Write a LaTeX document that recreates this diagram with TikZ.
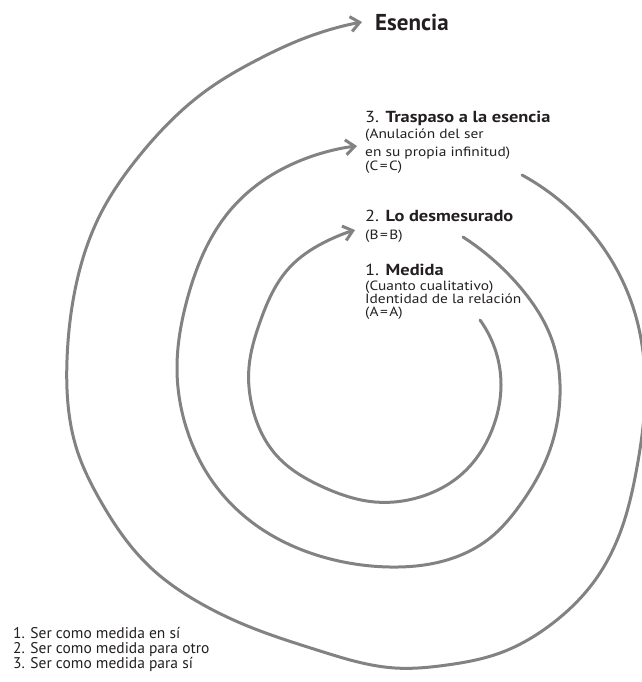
\documentclass[tikz,border=0pt]{standalone}
\usepackage{fontspec}
\setmainfont{PT Sans}
\newfontfamily\widesans[FakeStretch=1.15]{PT Sans}
\usetikzlibrary{arrows.meta,hobby}
\definecolor{spiralgray}{RGB}{130,130,130}
\definecolor{inkdark}{RGB}{35,31,32}
\newcommand{\wideeq}{\kern1.5pt=\kern1.5pt}
\tikzset{
  spiral/.style={draw=spiralgray, line width=3pt, line cap=round, line join=round,
    use Hobby shortcut,
    -{Straight Barb[length=9pt,width=15pt,line width=3pt]}},
  lbl/.style={anchor=base west, inner sep=0pt, text=inkdark},
  headtxt/.style={lbl, font=\widesans\fontsize{16}{16}\selectfont},
  subtxt/.style={lbl, font=\widesans\fontsize{13.4}{13.4}\selectfont},
  legendtxt/.style={lbl, font=\fontsize{15.5}{15}\selectfont},
}
\begin{document}
\begin{tikzpicture}[x=1pt,y=-1pt]
\useasboundingbox (0,0) rectangle (641,682);

% inner turn: Medida -> Lo desmesurado
\draw[spiral] (480,320) .. (496,352) .. (501,385) .. (492,430) .. (463,473)
  .. (420,497) .. (375,502) .. (323,487) .. (277,456) .. (253,410)
  .. (249,367) .. (260,322) .. (290,267) .. (323,243) .. (355,230);

% middle turn: Lo desmesurado -> Traspaso a la esencia
\draw[spiral] (463,237) .. (520,287) .. (552,340) .. (560,395) .. (548,455)
  .. (520,505) .. (490,538) .. (447,560) .. (390,567) .. (323,557)
  .. (263,530) .. (215,485) .. (187,430) .. (177,370) .. (187,300)
  .. (233,207) .. (307,158) .. (357,146);

% outer turn: Traspaso a la esencia -> Esencia
\draw[spiral] (522,175) .. (587,227) .. (633,307) .. (645,400) .. (637,467)
  .. (620,533) .. (593,583) .. (553,623) .. (500,653) .. (447,665)
  .. (395,668) .. (317,650) .. (250,627) .. (200,603) .. (150,567)
  .. (100,500) .. (77,450) .. (67,360) .. (75,290) .. (100,215)
  .. (140,155) .. (207,90) .. (257,60) .. (305,38) .. (362,22);

% labels
\node[lbl, font=\fontsize{23}{23}\selectfont\bfseries] (esencia) at (375,31) {Esencia};

\node[headtxt] (tras) at (365,123) {3. \textbf{Traspaso a la esencia}};
\node[subtxt] (tras1) at (365,139) {(Anulación del ser};
\node[subtxt] (tras2) at (365,156) {en su propia infinitud)};
\node[subtxt] (tras3) at (365,170) {(C\wideeq C)};

\node[headtxt] (desm) at (365,221) {2. \textbf{Lo desmesurado}};
\node[subtxt] (desm1) at (365,239) {(B\wideeq B)};

\node[headtxt] (med) at (365,275) {1. \textbf{Medida}};
\node[subtxt] (med1) at (365,290) {(Cuanto cualitativo)};
\node[subtxt] (med2) at (365,303) {Identidad de la relación};
\node[subtxt] (med3) at (365,316) {(A\wideeq A)};

% legend
\node[legendtxt] (leg1) at (13,638) {1. Ser como medida en sí};
\node[legendtxt] (leg2) at (13,653) {2. Ser como medida para otro};
\node[legendtxt] (leg3) at (13,668) {3. Ser como medida para sí};
\end{tikzpicture}
\end{document}
